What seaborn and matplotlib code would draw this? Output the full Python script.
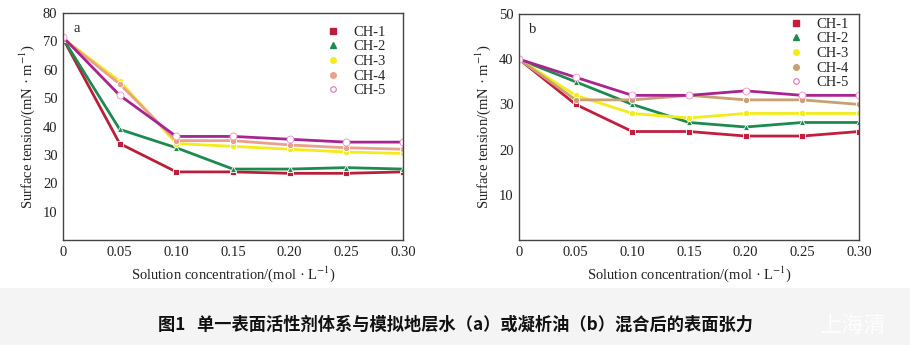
import numpy as np
import pandas as pd
import matplotlib
matplotlib.use("Agg")
import matplotlib.pyplot as plt
import seaborn as sns
from matplotlib.lines import Line2D

conc = [0, 0.05, 0.10, 0.15, 0.20, 0.25, 0.30]
xtick_labels = ["0", "0.05", "0.10", "0.15", "0.20", "0.25", "0.30"]
series = ["CH-1", "CH-2", "CH-3", "CH-4", "CH-5"]

a_ch1 = [71, 34, 24, 24, 23.5, 23.5, 24]
a_ch2 = [71, 39, 32.5, 25, 25, 25.5, 25]
a_ch3 = [71, 56, 34, 33, 32, 31, 30.5]
a_ch4 = [71, 55, 35, 35, 33.5, 32.5, 32]
a_ch5 = [71.5, 51, 36.5, 36.5, 35.5, 34.5, 34.5]

b_ch1 = [40, 30, 24, 24, 23, 23, 24]
b_ch2 = [40, 35, 30, 26, 25, 26, 26]
b_ch3 = [40, 32, 28, 27, 28, 28, 28]
b_ch4 = [40, 31, 31, 32, 31, 31, 30]
b_ch5 = [40, 36, 32, 32, 33, 32, 32]

line_colors_a = {"CH-1": "#b8203a", "CH-2": "#1f8a50", "CH-3": "#f2ec1a", "CH-4": "#e9a08c", "CH-5": "#a8248e"}
line_colors_b = {"CH-1": "#c41e3f", "CH-2": "#1f8a50", "CH-3": "#f2ec1a", "CH-4": "#c9a072", "CH-5": "#a8248e"}
marker_map = {"CH-1": "s", "CH-2": "^", "CH-3": "o", "CH-4": "o", "CH-5": "o"}

sns.set_style("white")
plt.rcParams['font.family'] = ['Liberation Serif', 'DejaVu Sans']
plt.rcParams['mathtext.fontset'] = 'stix'

def make_df(vals):
    rows = []
    for name, v in zip(series, vals):
        for x, y in zip(conc, v):
            rows.append({"x": x, "y": y, "series": name})
    return pd.DataFrame(rows)

df_a = make_df([a_ch1, a_ch2, a_ch3, a_ch4, a_ch5])
df_b = make_df([b_ch1, b_ch2, b_ch3, b_ch4, b_ch5])

fig = plt.figure(figsize=(9.1, 3.45), dpi=100)
fig.patch.set_facecolor("white")
band = fig.add_axes([0, 0, 1, 57/345])
band.set_facecolor("#f4f4f4")
band.set_xticks([]); band.set_yticks([])
for s in band.spines.values():
    s.set_visible(False)

W, H = 910, 345
ax_a = fig.add_axes([63/W, 1 - 240/H, 340/W, 227/H])
ax_b = fig.add_axes([519/W, 1 - 240/H, 340/W, 226/H])

def draw(ax, df, colors, ymax, yticks, letter, anchor):
    sns.lineplot(data=df, x="x", y="y", hue="series", style="series",
                 palette=colors, markers=marker_map, dashes=False,
                 linewidth=2.0, markersize=4.5, ax=ax, legend=False,
                 markeredgewidth=0.6)
    ax.set_xlim(0, 0.30)
    ax.set_ylim(0, ymax)
    ax.set_xticks(conc)
    ax.set_xticklabels(xtick_labels, fontsize=10.5)
    ax.set_yticks(yticks)
    ax.set_yticklabels([str(t) for t in yticks], fontsize=10.5)
    ax.tick_params(axis='both', direction='in', length=0, pad=4, colors="#222222")
    for s in ax.spines.values():
        s.set_color("#444444")
        s.set_linewidth(1.0)
    ax.set_xlabel(r"Solution concentration/(mol · L$^{-1}$)", fontsize=10.5, color="#222222", labelpad=4)
    ax.set_ylabel(r"Surface tension/(mN · m$^{-1}$)", fontsize=10.5, color="#222222", labelpad=4)
    ax.text(0.03, 0.96, letter, transform=ax.transAxes, fontsize=10.5, va="top", ha="left", color="#222222")
    handles = []
    for name in series:
        if name == "CH-5":
            h = Line2D([], [], linestyle="none", marker="o", markersize=4,
                       markerfacecolor="white", markeredgecolor="#e070c0", markeredgewidth=0.8)
        else:
            h = Line2D([], [], linestyle="none", marker=marker_map[name], markersize=4,
                       color=colors[name])
        handles.append(h)
    ax.legend(handles, series, loc="upper right", frameon=False, fontsize=10.5,
              handletextpad=0.4, labelspacing=0.1, borderaxespad=0.3,
              bbox_to_anchor=anchor)

draw(ax_a, df_a, line_colors_a, 80, [10, 20, 30, 40, 50, 60, 70, 80], "a", (0.98, 0.99))
draw(ax_b, df_b, line_colors_b, 50, [10, 20, 30, 40, 50], "b", (1.0, 1.03))

for ax in (ax_a, ax_b):
    lines = [l for l in ax.get_lines() if len(l.get_xdata()) == len(conc)]
    if len(lines) >= 5:
        l5 = lines[4]
        l5.set_markerfacecolor("white")
        l5.set_markeredgecolor("#f08ad0")
        l5.set_markersize(5)

fig.text(0.5, 1 - 325/H, "图1   单一表面活性剂体系与模拟地层水（a）或凝析油（b）混合后的表面张力",
         ha="center", va="center", fontsize=12.4, fontweight="bold",
         family=["Noto Sans CJK SC", "DejaVu Sans"], color="#111111")
fig.text(820/W, 1 - 325/H, "上海清", ha="left", va="center", fontsize=16,
         family=["Noto Sans CJK SC", "DejaVu Sans"], color="white", alpha=0.9)

fig.savefig("out.png", dpi=100)
